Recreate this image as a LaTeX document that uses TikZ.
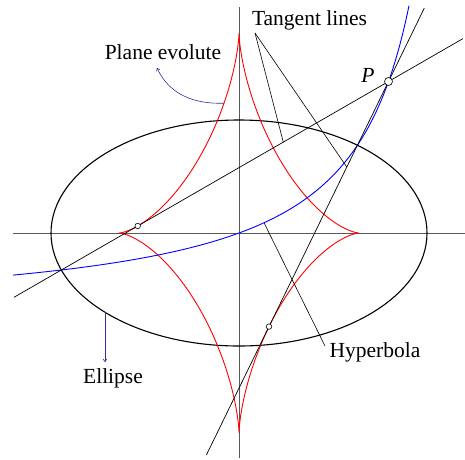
\documentclass[tikz,border=0pt]{standalone}
\usepackage{fontspec}
\setmainfont{Liberation Serif}
\usetikzlibrary{calc,arrows.meta}
\definecolor{arrowblue}{RGB}{50,50,150}
\begin{document}
\begin{tikzpicture}[x=1pt,y=1pt,
  lbl/.style={font=\fontsize{21.5}{24}\selectfont, inner sep=0pt},
  axisline/.style={black!65, line width=0.9pt},
  ellcurve/.style={black, line width=1.1pt},
  evocurve/.style={red, line width=0.9pt},
  hypcurve/.style={blue, line width=0.9pt},
  tline/.style={black, line width=0.7pt},
  leader/.style={black, line width=0.6pt},
  bluearrow/.style={arrowblue, line width=0.6pt, -{To[length=3pt,width=4pt]}},
  dot/.style={circle, draw=black, fill=white, line width=0.6pt, inner sep=0pt, minimum size=#1},
]
\useasboundingbox (-239,-226) rectangle (226,233);
% axes
\coordinate (axL) at (-226,0);
\coordinate (axR) at (226,0);
\coordinate (axT) at (0,226);
\coordinate (axB) at (0,-225);
\draw[axisline] (axL) -- (axR);
\draw[axisline] (axT) -- (axB);
% ellipse
\coordinate (O) at (0,0);
\draw[ellcurve] (O) ellipse [x radius=188pt, y radius=113pt];
% evolute
\draw[evocurve] plot[domain=0:360, samples=361, variable=\t]
  ({120.08*cos(\t)*cos(\t)*cos(\t)}, {199.78*sin(\t)*sin(\t)*sin(\t)}) -- cycle;
% hyperbola
\draw[hypcurve] plot[domain=-226:170, samples=240, variable=\x]
  (\x, {-85.69*(\x/(\x-234.06))});
% key points
\coordinate (P) at (149.5,151.5);
\coordinate (C1) at (-101.3,7.0);
\coordinate (C2) at (30.0,-93.6);
\coordinate (l1a) at ($(C1)!-0.493!(P)$);
\coordinate (l1b) at ($(C1)!1.297!(P)$);
\coordinate (l2a) at ($(C2)!-0.524!(P)$);
\coordinate (l2b) at ($(C2)!1.30!(P)$);
\draw[tline] (l1a) -- (l1b);
\draw[tline] (l2a) -- (l2b);
% Tangent lines label
\node[lbl] (tl) at (70.5,213) {Tangent lines};
\coordinate (tls) at (16,200);
\coordinate (ta) at ($(C1)!0.5805!(P)$);
\coordinate (tb) at ($(C2)!0.651!(P)$);
\draw[leader] (tls) -- (ta);
\draw[leader] (tls) -- (tb);
% Hyperbola label
\node[lbl] (hyp) at (136,-119) {Hyperbola};
\coordinate (hs) at (25,10.25);
\coordinate (he) at (86,-113);
\draw[leader] (hs) -- (he);
% Plane evolute label
\node[lbl] (pe) at (-76,181) {Plane evolute};
\coordinate (es) at (-15,129.8);
\coordinate (et) at (-82,165);
\draw[bluearrow] (es) to[out=182,in=-65] (et);
% Ellipse label
\node[lbl] (el) at (-126,-145) {Ellipse};
\coordinate (els) at (-134,-79.3);
\coordinate (elt) at (-134,-129);
\draw[bluearrow] (els) -- (elt);
% P label
\node[lbl] (pl) at (129,158) {\textit{P}};
% dots
\node[dot=8pt] (Pd) at (P) {};
\node[dot=5.5pt] (C1d) at (C1) {};
\node[dot=5.5pt] (C2d) at (C2) {};
\end{tikzpicture}
\end{document}
